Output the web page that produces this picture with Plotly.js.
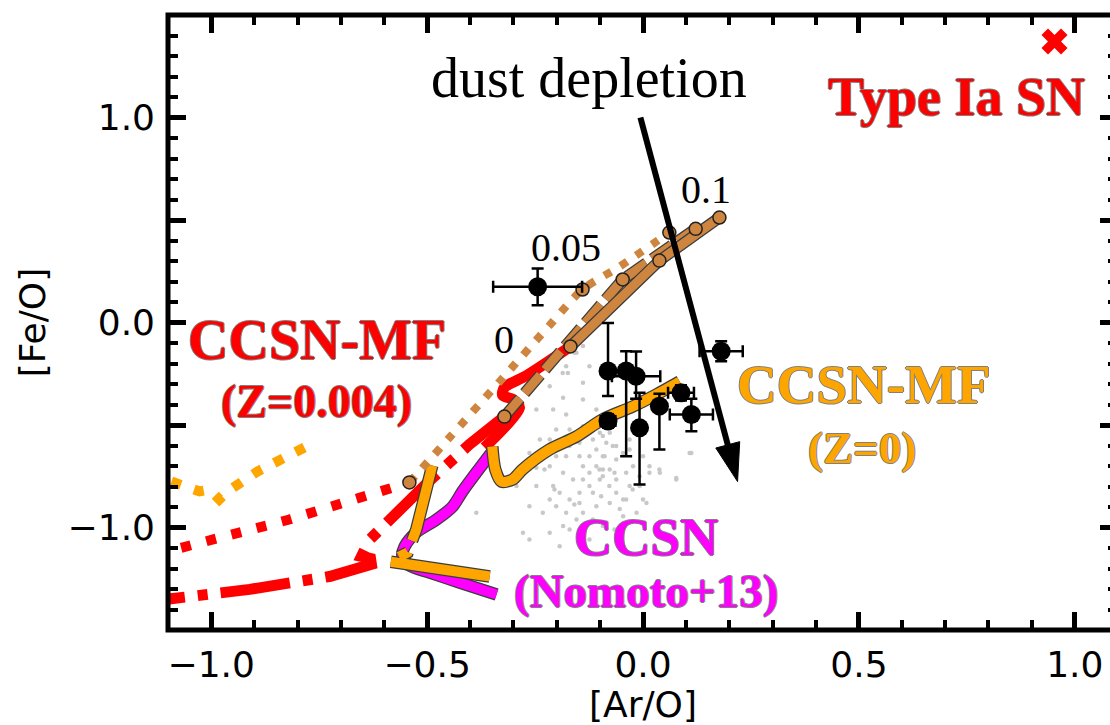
<!DOCTYPE html>
<html>
<head>
<meta charset="utf-8">
<script src="https://cdn.plot.ly/plotly-3.0.1.min.js"></script>
<style>
  html, body { margin: 0; padding: 0; overflow: hidden; background: #ffffff; }
  #chart { width: 1120px; height: 725px; }
</style>
</head>
<body>
<div id="chart"></div>
<script>
// ---- Observed abundance ratios with uncertainties ----
const obsAr      = [-0.244, -0.081, -0.039, -0.016, -0.008, 0.038, 0.088, 0.112, 0.181, -0.081];
const obsFe      = [ 0.174, -0.237, -0.237, -0.262, -0.514, -0.408, -0.343, -0.449, -0.140, -0.481];
const obsArErr   = [ 0.103,  0.010,  0.010,  0.056,  0.010,  0.010,  0.030,  0.050,  0.050,  0.017];
const obsFeErrUp = [ 0.090,  0.235,  0.097,  0.120,  0.171,  0.060,  0.037,  0.077,  0.049,  0.033];
const obsFeErrDn = [ 0.090,  0.122,  0.415,  0.110,  0.276,  0.212,  0.037,  0.081,  0.049,  0.033];

// ---- Comparison sample (small grey points) ----
const sampleAr = [-0.224,-0.216,-0.247,-0.208,-0.185,-0.178,-0.201,-0.170,-0.147,-0.139,-0.116,-0.108,-0.093,-0.085,-0.147,-0.178,-0.201,-0.216,-0.247,-0.278,-0.293,-0.247,-0.208,-0.193,-0.170,-0.147,-0.124,-0.100,-0.077,-0.062,-0.046,-0.031,0.000,0.015,0.039,0.077,0.108,0.000,-0.015,-0.046,-0.077,-0.108,-0.139,-0.154,-0.178,-0.201,-0.216,-0.232,-0.263,-0.278,-0.386,-0.124,-0.139,-0.108,-0.093,-0.062,-0.031,-0.008,-0.023,-0.185,-0.162,-0.139,-0.170,-0.193,-0.216,-0.239,-0.263,-0.232,-0.124,-0.100,-0.077,-0.139,-0.154,-0.124,-0.178,-0.139,-0.108,-0.093,-0.062,-0.039,-0.147,-0.185,-0.170,-0.139,-0.116,-0.093,-0.062,-0.046,-0.008,0.008,-0.193,-0.216,-0.093,-0.070,-0.089,-0.093,-0.066,-0.078,-0.024,0.015,0.077,0.112,-0.039,-0.097,-0.159,-0.139,-0.186,-0.174,-0.228,-0.205,-0.263,-0.124,-0.066,-0.159,-0.101,-0.031,0.038,-0.116,-0.054];
const sampleFe = [-0.213,-0.311,-0.424,-0.424,-0.367,-0.449,-0.522,-0.522,-0.587,-0.506,-0.571,-0.620,-0.652,-0.587,-0.652,-0.652,-0.652,-0.701,-0.709,-0.733,-0.798,-0.798,-0.798,-0.831,-0.863,-0.831,-0.798,-0.766,-0.717,-0.668,-0.636,-0.571,-0.652,-0.701,-0.733,-0.766,-0.636,-0.863,-0.928,-0.863,-0.880,-0.896,-0.928,-0.961,-0.928,-0.896,-0.863,-0.928,-0.896,-1.026,-0.928,-0.733,-0.701,-0.701,-0.750,-0.766,-0.798,-0.750,-0.701,-0.733,-0.766,-0.766,-0.603,-0.587,-0.571,-0.571,-0.636,-0.652,-0.652,-0.538,-0.538,-0.376,-0.148,-0.213,-0.213,-0.294,-0.424,-0.473,-0.603,-0.733,-0.880,-0.993,-1.010,-1.026,-0.961,-0.993,-0.831,-0.945,-0.798,-0.880,-1.091,-1.026,-0.554,-0.603,-0.652,-0.717,-0.733,-0.798,-0.815,-0.733,-0.758,-0.636,-0.863,-0.847,-0.148,-0.115,-0.246,-0.246,-0.717,-0.815,-1.059,-1.059,-1.010,-0.888,-0.717,-0.620,-0.717,-0.830,-0.910];

// ---- CCSN-MF (Z=0.004) model tracks ----
const mf004DotAr  = [-1.127, -1.084, -0.819, -0.587, -0.541];
const mf004DotFe  = [-1.137, -1.107, -0.961, -0.805, -0.780];
const mf004DdAr   = [-1.222, -0.911, -0.726, -0.656, -0.629, -0.631, -0.652, -0.633, -0.564, -0.494, -0.402, -0.321];
const mf004DdFe   = [-1.380, -1.302, -1.239, -1.205, -1.180, -1.151, -1.141, -1.059, -0.912, -0.771, -0.595, -0.459];
const mf004SolAr  = [-0.367, -0.286, -0.300, -0.325, -0.321, -0.270, -0.168];
const mf004SolFe  = [-0.610, -0.415, -0.376, -0.356, -0.317, -0.259, -0.117];

// ---- CCSN-MF (Z=0) model tracks ----
const mf0DotAr  = [-1.092, -1.050, -1.027, -1.004, -0.981, -0.962, -0.893, -0.784];
const mf0DotFe  = [-0.776, -0.805, -0.824, -0.815, -0.863, -0.824, -0.727, -0.610];
const mf0DashAr = [-0.355, -0.587, -0.545, -0.525, -0.488];
const mf0DashFe = [-1.239, -1.166, -1.122, -1.010, -0.698];
const mf0SolAr  = [-0.349, -0.342, -0.328, -0.302, -0.279, -0.217, -0.154, -0.094, -0.024, 0.031, 0.085];
const mf0SolFe  = [-0.605, -0.717, -0.776, -0.766, -0.717, -0.620, -0.556, -0.473, -0.410, -0.351, -0.288];

// ---- CCSN (Nomoto+13) track ----
const nomAr = [-0.349, -0.386, -0.418, -0.441, -0.478, -0.525, -0.552, -0.557, -0.541, -0.494, -0.425, -0.339];
const nomFe = [-0.629, -0.732, -0.824, -0.898, -0.961, -1.024, -1.093, -1.141, -1.185, -1.220, -1.268, -1.327];

// ---- Mixing with Type Ia SN ejecta (Ia fractions 0, 0.05, 0.1) ----
const mixDotAr  = [-0.541, -0.448, -0.332, -0.217, -0.140, -0.054, 0.061];
const mixDotFe  = [-0.780, -0.561, -0.288, -0.015, 0.161, 0.273, 0.439];
const mixDashAr = [-0.321, -0.047, 0.122];
const mixDashFe = [-0.459, 0.210, 0.457];
const mixSolAr  = [-0.168, 0.038, 0.177];
const mixSolFe  = [-0.117, 0.302, 0.512];
const mixNodeAr = [-0.541, -0.321, -0.168, -0.140, -0.047, 0.038, 0.061, 0.122, 0.177];
const mixNodeFe = [-0.780, -0.459, -0.117, 0.161, 0.210, 0.302, 0.439, 0.457, 0.512];

// ---- Type Ia SN yield and dust-depletion vector ----
const snIaAr = [0.953];
const snIaFe = [1.371];
const depletionAr = [-0.006, 0.219];
const depletionFe = [1.000, -0.776];

// ---- Axis ticks ----
const xTickVals = [-1.0, -0.5, 0.0, 0.5, 1.0];
const xTickText = ['\u22121.0', '\u22120.5', '0.0', '0.5', '1.0'];
const yTickVals = [-1.0, -0.5, 0.0, 0.5, 1.0];
const yTickText = ['\u22121.0', '', '0.0', '', '1.0'];

const RED = '#ff0000', ORANGE = '#ffa500', MAGENTA = '#ff00ff', BROWN = '#cd853f';
const EDGE = '#3c3c3c';

const traces = [];

function track(x, y, color, width, dash, opts) {
  opts = opts || {};
  const shape = opts.smooth ? 'spline' : 'linear';
  if (opts.edge) {
    traces.push({x, y, mode: 'lines', hoverinfo: 'skip', showlegend: false,
      line: {color: EDGE, width: width + 2.5, dash: dash, shape: shape, smoothing: 0.8}});
  }
  traces.push({x, y, mode: 'lines', hoverinfo: 'skip', showlegend: false,
    line: {color: color, width: width, dash: dash, shape: shape, smoothing: 0.8}});
}

// comparison sample
traces.push({x: sampleAr, y: sampleFe, mode: 'markers', hoverinfo: 'skip', showlegend: false,
  marker: {color: '#c8c8c8', size: 4.5}});

// model tracks
track(nomAr, nomFe, MAGENTA, 10, 'solid', {edge: true, smooth: true});
track(mf004DotAr, mf004DotFe, RED, 10, '10px,16px');
track(mf004DdAr, mf004DdFe, RED, 11, '70px,13px,10px,13px');
track(mf004SolAr, mf004SolFe, RED, 11, 'solid', {smooth: true});
track(mf0DotAr, mf0DotFe, ORANGE, 10, '10px,14px');
track(mf0DashAr, mf0DashFe, ORANGE, 10, '100px,12px,10px,12px', {edge: true});
track(mf0SolAr, mf0SolFe, ORANGE, 10, 'solid', {edge: true, smooth: true});
track(mixDotAr, mixDotFe, BROWN, 8, '8px,11px', {smooth: true});
track(mixDashAr, mixDashFe, BROWN, 9, '24px,7px', {edge: true});
track(mixSolAr, mixSolFe, BROWN, 9, 'solid', {edge: true});

// mixing nodes
traces.push({x: mixNodeAr, y: mixNodeFe, mode: 'markers', hoverinfo: 'skip', showlegend: false,
  marker: {color: BROWN, size: 13, line: {color: '#222222', width: 1.5}}});

// observations
traces.push({x: obsAr, y: obsFe, mode: 'markers', hoverinfo: 'skip', showlegend: false,
  marker: {color: '#000000', size: 19},
  error_x: {type: 'data', array: obsArErr, color: '#000000', thickness: 2.5, width: 6},
  error_y: {type: 'data', symmetric: false, array: obsFeErrUp, arrayminus: obsFeErrDn,
            color: '#000000', thickness: 2.5, width: 6}});

// dust depletion vector
traces.push({x: depletionAr, y: depletionFe, mode: 'lines+markers', hoverinfo: 'skip', showlegend: false,
  line: {color: '#000000', width: 6},
  marker: {symbol: 'arrow', angleref: 'previous', size: [0, 40], color: '#000000', opacity: 1,
           line: {color: '#000000', width: 1}}});

// Type Ia SN
traces.push({x: snIaAr, y: snIaFe, mode: 'markers', hoverinfo: 'skip', showlegend: false,
  marker: {symbol: 'x', size: 23, color: RED, line: {width: 0}}});

const outline = '1px 0 0 #808080, -1px 0 0 #808080, 0 1px 0 #808080, 0 -1px 0 #808080';
function label(x, y, text, size, color, bold) {
  return {x, y, xref: 'x', yref: 'y', text: bold ? '<b>' + text + '</b>' : text,
    showarrow: false, xanchor: 'center', yanchor: 'middle',
    font: {family: 'Liberation Serif', size: size, color: color, shadow: bold ? outline : 'none'}};
}

const annotations = [
  label(-0.124, 1.195, 'dust depletion', 56, '#000000', false),
  label(0.726, 1.098, 'Type Ia SN', 54, RED, true),
  label(0.147, 0.649, '0.1', 40, '#000000', false),
  label(-0.179, 0.366, '0.05', 40, '#000000', false),
  label(-0.321, -0.083, '0', 40, '#000000', false),
  label(-0.756, -0.083, 'CCSN-MF', 56, RED, true),
  label(-0.756, -0.385, '(Z=0.004)', 46, RED, true),
  label(0.511, -0.302, 'CCSN-MF', 55, ORANGE, true),
  label(0.506, -0.610, '(Z=0)', 45, ORANGE, true),
  label(0.008, -1.044, 'CCSN', 53, MAGENTA, true),
  label(0.008, -1.312, '(Nomoto+13)', 47, MAGENTA, true)
];

const axisCommon = {
  showgrid: false, zeroline: false, showline: false,
  ticks: 'inside', ticklen: 18, tickwidth: 5, tickcolor: '#000000', mirror: 'ticks',
  tickfont: {family: 'DejaVu Sans', size: 36, color: '#000000'},
  minor: {dtick: 0.1, ticks: 'inside', ticklen: 10, tickwidth: 4, tickcolor: '#000000', showgrid: false},
  fixedrange: true
};

const layout = {
  width: 1120, height: 725,
  margin: {l: 168, r: 2, t: 15, b: 95},
  paper_bgcolor: '#ffffff', plot_bgcolor: '#ffffff',
  font: {family: 'DejaVu Sans', color: '#000000'},
  showlegend: false,
  xaxis: Object.assign({}, axisCommon, {
    range: [-1.1, 1.1], tickmode: 'array', tickvals: xTickVals, ticktext: xTickText,
    minor: Object.assign({}, axisCommon.minor, {tick0: 0}),
    ticklabelstandoff: 10,
    title: {text: '[Ar/O]', font: {family: 'DejaVu Sans', size: 36}, standoff: 4}
  }),
  yaxis: Object.assign({}, axisCommon, {
    range: [-1.5, 1.5], tickmode: 'array', tickvals: yTickVals, ticktext: yTickText,
    minor: Object.assign({}, axisCommon.minor, {tick0: 0}),
    ticklabelstandoff: 12,
    title: {text: '[Fe/O]', font: {family: 'DejaVu Sans', size: 36}, standoff: 10}
  }),
  shapes: [{type: 'rect', xref: 'paper', yref: 'paper', x0: 0, x1: 1, y0: 0, y1: 1,
            line: {color: '#000000', width: 5}, layer: 'above'}],
  annotations: annotations
};

Plotly.newPlot('chart', traces, layout, {displayModeBar: false, staticPlot: true});
</script>
</body>
</html>
